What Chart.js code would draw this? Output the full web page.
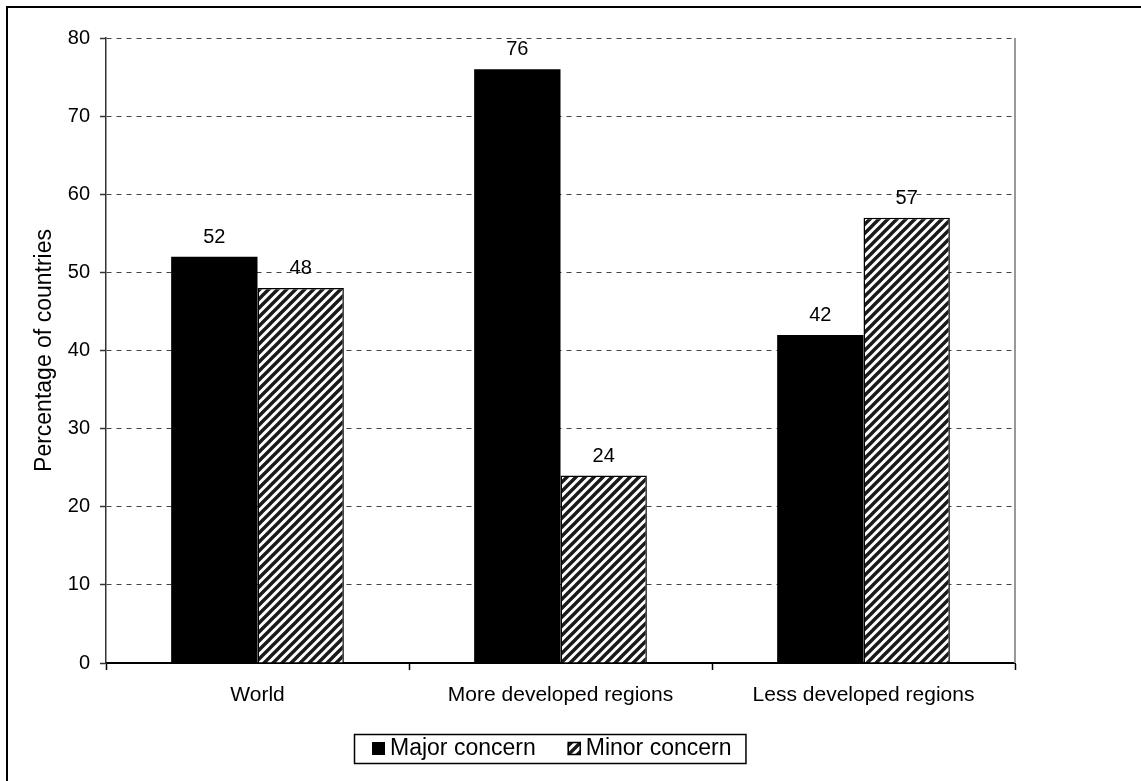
<!DOCTYPE html>
<html>
<head>
<meta charset="utf-8">
<script src="https://cdn.jsdelivr.net/npm/chart.js@4/dist/chart.umd.min.js"></script>
<style>
  html, body { margin: 0; padding: 0; background: #fff; }
  #wrap { width: 1141px; height: 781px; position: relative; }
</style>
</head>
<body>
<div id="wrap"><canvas id="c" width="1141" height="781"></canvas></div>
<script>
// Share of countries citing each level of concern, by region
const categories = ['World', 'More developed regions', 'Less developed regions'];
const majorConcern = [52, 76, 42];
const minorConcern = [48, 24, 57];
const seriesNames = ['Major concern', 'Minor concern'];
const yAxisTitle = 'Percentage of countries';
const yMin = 0, yMax = 80, yStep = 10;

const FONT = "'Liberation Sans', Arial, sans-serif";

// Diagonal stripe fill for the second series
function makeHatch() {
  const n = 9;
  const t = document.createElement('canvas');
  t.width = n; t.height = n;
  const g = t.getContext('2d');
  g.fillStyle = '#fff';
  g.fillRect(0, 0, n, n);
  g.strokeStyle = '#1a1a1a';
  g.lineWidth = 3.4;
  g.beginPath();
  g.moveTo(-2, n + 2); g.lineTo(n + 2, -2);
  g.moveTo(-2, 2); g.lineTo(2, -2);
  g.moveTo(n - 2, n + 2); g.lineTo(n + 2, n - 2);
  g.stroke();
  return g.createPattern(t, 'repeat');
}
const hatch = makeHatch();

// Page frame, right plot edge
const framePlugin = {
  id: 'frame',
  beforeDraw(chart) {
    const ctx = chart.ctx;
    ctx.save();
    ctx.fillStyle = '#fff';
    ctx.fillRect(0, 0, chart.width, chart.height);
    ctx.strokeStyle = '#000';
    ctx.lineWidth = 2;
    ctx.beginPath();
    ctx.moveTo(7, chart.height + 2);
    ctx.lineTo(7, 7);
    ctx.lineTo(chart.width + 2, 7);
    ctx.stroke();
    ctx.restore();
  },
  beforeDatasetsDraw(chart) {
    const { ctx, chartArea } = chart;
    ctx.save();
    ctx.strokeStyle = '#999';
    ctx.lineWidth = 2;
    ctx.beginPath();
    ctx.moveTo(chartArea.right, chartArea.top);
    ctx.lineTo(chartArea.right, chartArea.bottom);
    ctx.stroke();
    ctx.restore();
  }
};

// Value labels above each bar
const valueLabels = {
  id: 'valueLabels',
  afterDatasetsDraw(chart) {
    const ctx = chart.ctx;
    ctx.save();
    ctx.fillStyle = '#000';
    ctx.font = '20px ' + FONT;
    ctx.textAlign = 'center';
    ctx.textBaseline = 'alphabetic';
    chart.data.datasets.forEach((ds, di) => {
      chart.getDatasetMeta(di).data.forEach((bar, i) => {
        ctx.fillText(String(ds.data[i]), bar.x, bar.y - 14);
      });
    });
    ctx.restore();
  }
};

// Boxed legend under the axis
const boxLegend = {
  id: 'boxLegend',
  afterDraw(chart) {
    const ctx = chart.ctx;
    const centerX = 550, top = 734, h = 29, mark = 13;
    ctx.save();
    ctx.font = '23px ' + FONT;
    const items = chart.data.datasets.map(ds => ({ ds, w: ctx.measureText(ds.label).width }));
    let total = 18;
    items.forEach((it, i) => { total += mark + 5 + it.w + (i < items.length - 1 ? 32 : 14); });
    const left = Math.round(centerX - total / 2);
    ctx.fillStyle = '#fff';
    ctx.fillRect(left, top, total, h);
    ctx.strokeStyle = '#000';
    ctx.lineWidth = 1.5;
    ctx.strokeRect(left + 0.5, top + 0.5, total, h);
    let x = left + 18;
    const my = top + (h - mark) / 2;
    items.forEach((it) => {
      ctx.fillStyle = it.ds.backgroundColor;
      ctx.fillRect(x, my, mark, mark);
      if (it.ds.borderWidth) {
        ctx.strokeStyle = '#000';
        ctx.lineWidth = 1.5;
        ctx.strokeRect(x + 0.5, my + 0.5, mark - 1, mark - 1);
      }
      x += mark + 5;
      ctx.fillStyle = '#000';
      ctx.textAlign = 'left';
      ctx.textBaseline = 'middle';
      ctx.fillText(it.ds.label, x, top + h / 2);
      x += it.w + 32;
    });
    ctx.restore();
  }
};

new Chart(document.getElementById('c'), {
  type: 'bar',
  data: {
    labels: categories,
    datasets: [
      {
        label: seriesNames[0],
        data: majorConcern,
        backgroundColor: '#000',
        borderWidth: 0,
        barPercentage: 1,
        categoryPercentage: 0.57
      },
      {
        label: seriesNames[1],
        data: minorConcern,
        backgroundColor: hatch,
        borderColor: '#000',
        borderWidth: 1.5,
        barPercentage: 1,
        categoryPercentage: 0.57
      }
    ]
  },
  options: {
    responsive: false,
    animation: false,
    devicePixelRatio: 1,
    layout: { padding: { left: 31, top: 38, right: 126, bottom: 0 } },
    plugins: {
      legend: { display: false },
      tooltip: { enabled: false }
    },
    scales: {
      x: {
        grid: {
          offset: true,
          drawOnChartArea: false,
          drawTicks: true,
          tickLength: 7,
          tickColor: '#000',
          tickWidth: 1.5
        },
        border: { color: '#000', width: 2 },
        ticks: {
          font: { family: FONT, size: 21 },
          color: '#000',
          padding: 13,
          maxRotation: 0,
          autoSkip: false
        },
        afterFit(scale) { scale.height = 118; }
      },
      y: {
        min: yMin,
        max: yMax,
        ticks: {
          stepSize: yStep,
          font: { family: FONT, size: 20 },
          color: '#000',
          padding: 10
        },
        grid: {
          color: ctx => (ctx.tick && ctx.tick.value === yMin) ? 'rgba(0,0,0,0)' : '#444',
          lineWidth: 1,
          tickLength: 6,
          tickColor: '#333',
          tickWidth: 1.5,
          tickBorderDash: []
        },
        border: { color: '#333', width: 1.5, dash: [5, 5] },
        title: {
          display: true,
          text: yAxisTitle,
          font: { family: FONT, size: 23 },
          color: '#000',
          padding: 0
        },
        afterFit(scale) { scale.width = 75; }
      }
    }
  },
  plugins: [framePlugin, valueLabels, boxLegend]
});
</script>
</body>
</html>
